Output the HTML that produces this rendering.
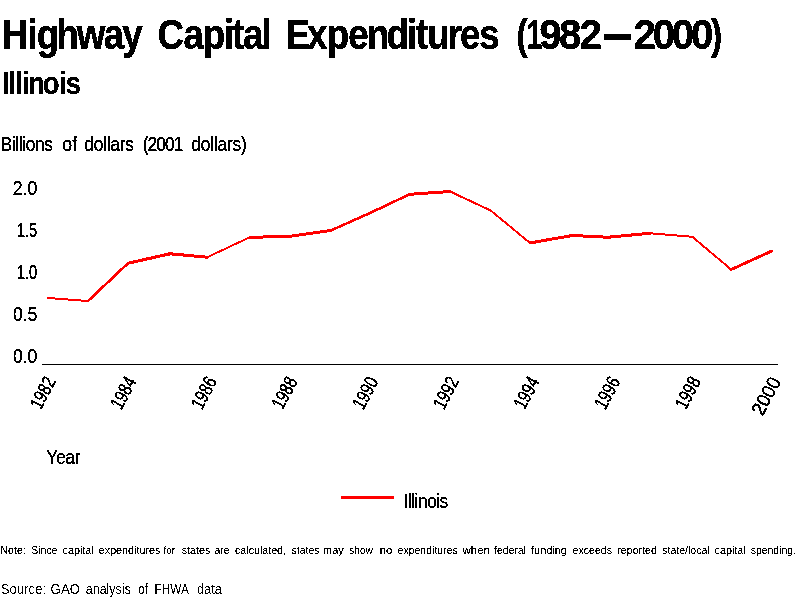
<!DOCTYPE html>
<html lang="en"><head><meta charset="utf-8"><title>Highway Capital Expenditures (1982—2000) Illinois</title>
<style>
html,body{margin:0;padding:0;background:#fff;}
body{width:800px;height:600px;overflow:hidden;}
svg{display:block;}
text{font-family:"Liberation Sans",sans-serif;fill:#000;}
.b{font-weight:bold;}
</style></head><body>
<svg width="800" height="600" viewBox="0 0 800 600">
<defs>
<filter id="fT" x="0" y="0" width="800" height="600" filterUnits="userSpaceOnUse"><feOffset in="SourceGraphic" dx="0.2" dy="0" result="o"/><feMerge result="m"><feMergeNode in="SourceGraphic"/><feMergeNode in="o"/></feMerge><feComponentTransfer in="m"><feFuncA type="discrete" tableValues="0 0 1 1 1"/></feComponentTransfer></filter>
<filter id="fS" x="0" y="0" width="800" height="600" filterUnits="userSpaceOnUse"><feOffset in="SourceGraphic" dx="0.25" dy="0" result="o"/><feMerge result="m"><feMergeNode in="SourceGraphic"/><feMergeNode in="o"/></feMerge><feComponentTransfer in="m"><feFuncA type="discrete" tableValues="0 1"/></feComponentTransfer></filter>
<filter id="fR" x="0" y="0" width="800" height="600" filterUnits="userSpaceOnUse"><feOffset in="SourceGraphic" dx="0.35" dy="0" result="o"/><feMerge result="m"><feMergeNode in="SourceGraphic"/><feMergeNode in="o"/></feMerge><feComponentTransfer in="m"><feFuncA type="discrete" tableValues="0 1"/></feComponentTransfer></filter>
<filter id="fN" x="0" y="0" width="800" height="600" filterUnits="userSpaceOnUse"><feComponentTransfer><feFuncA type="discrete" tableValues="0 0 0 0 1 1 1 1 1"/></feComponentTransfer></filter>
<filter id="fO" x="0" y="0" width="800" height="600" filterUnits="userSpaceOnUse"><feComponentTransfer><feFuncA type="discrete" tableValues="0 1"/></feComponentTransfer></filter>
<filter id="fL" x="0" y="0" width="800" height="600" filterUnits="userSpaceOnUse"><feComponentTransfer><feFuncA type="discrete" tableValues="0 1"/></feComponentTransfer></filter>
<filter id="fX" x="0" y="0" width="800" height="600" filterUnits="userSpaceOnUse"><feComponentTransfer><feFuncA type="discrete" tableValues="0 1"/></feComponentTransfer></filter>
</defs>
<rect width="800" height="600" fill="#fff"/>
<g filter="url(#fT)">
<text class="b" font-size="42" x="1.84 31.47 42.00 64.52 87.60 118.46 139.70" transform="translate(0,49) scale(0.875,1)">Highway</text>
<text class="b" font-size="42" x="179.89 209.72 231.65 255.76 265.18 277.60 298.53" transform="translate(0,49) scale(0.875,1)">Capital</text>
<text class="b" font-size="42" x="326.55 350.85 373.51 397.99 419.23 441.61 465.10 475.18 488.00 511.48 525.70 547.70" transform="translate(0,49) scale(0.875,1)">Expenditures</text>
<text class="b" font-size="42" x="645.53" transform="translate(0,49) scale(0.8,1)">(</text>
<text class="b" font-size="42" x="798.26" transform="translate(0,49) scale(0.66,1)">1</text>
<text class="b" font-size="42" x="561.67 582.21 603.54" transform="translate(0,49) scale(0.96,1)">982</text>
<text class="b" font-size="42" transform="translate(604.10,53) scale(0.6381,1.42)">—</text>
<text class="b" font-size="42" x="660.00 680.01 699.80 719.80" transform="translate(0,49) scale(0.96,1)">2000</text>
<text class="b" font-size="42" x="888.71" transform="translate(0,49) scale(0.8,1)">)</text>
</g>
<g filter="url(#fS)">
<text class="b" font-size="31.5" x="2.40 9.58 17.44 25.27 32.09 48.95 67.41 75.28" transform="translate(0,94) scale(0.875,1)">Illinois</text>
</g>
<g filter="url(#fR)">
<text class="t" font-size="19.8" letter-spacing="-0.429" transform="translate(0.46,151) scale(0.8800,1)">Billions</text>
<text class="t" font-size="19.8" letter-spacing="0.000" transform="translate(62.35,151) scale(0.8954,1)">of</text>
<text class="t" font-size="19.8" letter-spacing="-0.296" transform="translate(84.26,151) scale(0.8800,1)">dollars</text>
<text class="t" font-size="19.8" letter-spacing="-1.036" transform="translate(142.66,151) scale(0.8800,1)">(2001</text>
<text class="t" font-size="19.8" letter-spacing="-0.214" transform="translate(191.16,151) scale(0.8800,1)">dollars)</text>
<text class="t" font-size="19.8" transform="translate(12.72,195) scale(0.8938,1)">2.0</text>
<text class="t" font-size="19.8" transform="translate(16.90,237) scale(0.7388,1)">1.5</text>
<text class="t" font-size="19.8" transform="translate(16.91,279) scale(0.7373,1)">1.0</text>
<text class="t" font-size="19.8" transform="translate(12.90,321) scale(0.8887,1)">0.5</text>
<text class="t" font-size="19.8" transform="translate(12.90,363) scale(0.8870,1)">0.0</text>
<text class="t" font-size="19.8" letter-spacing="-0.338" transform="translate(46.21,464) scale(0.8800,1)">Year</text>
<text class="t" font-size="19.8" letter-spacing="-0.595" transform="translate(403.59,508) scale(0.8800,1)">Illinois</text>
</g>
<g filter="url(#fN)">
<text class="t" font-size="11.6" transform="translate(0.37,554) scale(0.9233,1)">Note:</text>
<text class="t" font-size="11.6" transform="translate(31.28,554) scale(0.9023,1)">Since</text>
<text class="t" font-size="11.6" transform="translate(62.54,554) scale(0.9303,1)">capital</text>
<text class="t" font-size="11.6" transform="translate(98.79,554) scale(0.9269,1)">expenditures</text>
<text class="t" font-size="11.6" transform="translate(163.60,554) scale(0.8526,1)">for</text>
<text class="t" font-size="11.6" transform="translate(181.70,554) scale(0.9266,1)">states</text>
<text class="t" font-size="11.6" transform="translate(214.55,554) scale(0.9033,1)">are</text>
<text class="t" font-size="11.6" transform="translate(235.05,554) scale(0.9182,1)">calculated,</text>
<text class="t" font-size="11.6" transform="translate(291.46,554) scale(0.9101,1)">states</text>
<text class="t" font-size="11.6" transform="translate(323.01,554) scale(0.9473,1)">may</text>
<text class="t" font-size="11.6" transform="translate(349.22,554) scale(0.8770,1)">show</text>
<text class="t" font-size="11.6" transform="translate(379.73,554) scale(0.9889,1)">no</text>
<text class="t" font-size="11.6" transform="translate(397.55,554) scale(0.9078,1)">expenditures</text>
<text class="t" font-size="11.6" transform="translate(462.53,554) scale(0.9897,1)">when</text>
<text class="t" font-size="11.6" transform="translate(494.09,554) scale(0.9055,1)">federal</text>
<text class="t" font-size="11.6" transform="translate(531.09,554) scale(0.9422,1)">funding</text>
<text class="t" font-size="11.6" transform="translate(572.55,554) scale(0.9158,1)">exceeds</text>
<text class="t" font-size="11.6" transform="translate(617.31,554) scale(0.9172,1)">reported</text>
<text class="t" font-size="11.6" transform="translate(662.31,554) scale(0.9075,1)">state/local</text>
<text class="t" font-size="11.6" transform="translate(714.54,554) scale(0.9303,1)">capital</text>
<text class="t" font-size="11.6" transform="translate(750.71,554) scale(0.8988,1)">spending.</text>
</g>
<g filter="url(#fO)">
<text class="t" font-size="15.1" transform="translate(0.66,594) scale(0.8753,1)">Source:</text>
<text class="t" font-size="15.1" transform="translate(50.59,594) scale(0.8804,1)">GAO</text>
<text class="t" font-size="15.1" transform="translate(85.72,594) scale(0.8290,1)">analysis</text>
<text class="t" font-size="15.1" transform="translate(138.25,594) scale(0.7730,1)">of</text>
<text class="t" font-size="15.1" transform="translate(154.53,594) scale(0.7802,1)">FHWA</text>
<text class="t" font-size="15.1" transform="translate(196.95,594) scale(0.8517,1)">data</text>
</g>
<g filter="url(#fX)">
<text class="t" font-size="19.4" stroke="#000" stroke-width="0.4" text-anchor="end" transform="translate(56.2,381.3) rotate(-62) scale(0.765,1)">1982</text>
<text class="t" font-size="19.4" stroke="#000" stroke-width="0.4" text-anchor="end" transform="translate(136.8,381.3) rotate(-62) scale(0.765,1)">1984</text>
<text class="t" font-size="19.4" stroke="#000" stroke-width="0.4" text-anchor="end" transform="translate(217.5,381.3) rotate(-62) scale(0.765,1)">1986</text>
<text class="t" font-size="19.4" stroke="#000" stroke-width="0.4" text-anchor="end" transform="translate(298.1,381.3) rotate(-62) scale(0.765,1)">1988</text>
<text class="t" font-size="19.4" stroke="#000" stroke-width="0.4" text-anchor="end" transform="translate(378.8,381.3) rotate(-62) scale(0.765,1)">1990</text>
<text class="t" font-size="19.4" stroke="#000" stroke-width="0.4" text-anchor="end" transform="translate(459.4,381.3) rotate(-62) scale(0.765,1)">1992</text>
<text class="t" font-size="19.4" stroke="#000" stroke-width="0.4" text-anchor="end" transform="translate(540.0,381.3) rotate(-62) scale(0.765,1)">1994</text>
<text class="t" font-size="19.4" stroke="#000" stroke-width="0.4" text-anchor="end" transform="translate(620.7,381.3) rotate(-62) scale(0.765,1)">1996</text>
<text class="t" font-size="19.4" stroke="#000" stroke-width="0.4" text-anchor="end" transform="translate(701.3,381.3) rotate(-62) scale(0.765,1)">1998</text>
<text class="t" font-size="19.4" stroke="#000" stroke-width="0.4" text-anchor="end" transform="translate(781.4,381.3) rotate(-62) scale(0.93,1)">2000</text>
</g>
<g shape-rendering="crispEdges">
<line x1="42" y1="364.5" x2="778" y2="364.5" stroke="#000" stroke-width="1"/>
</g>
<g stroke="#f00" stroke-linecap="round" filter="url(#fL)">
<line x1="48" y1="298" x2="88" y2="301" stroke-width="2"/>
<line x1="88" y1="301" x2="128" y2="263.3" stroke-width="2.6"/>
<line x1="128" y1="263.3" x2="170" y2="253.7" stroke-width="3"/>
<line x1="170" y1="253.7" x2="207.5" y2="257.2" stroke-width="3"/>
<line x1="207.5" y1="257.2" x2="250" y2="237.2" stroke-width="2"/>
<line x1="250" y1="237.2" x2="288.5" y2="236.4" stroke-width="3"/>
<line x1="288.5" y1="236.4" x2="330.5" y2="230.6" stroke-width="3"/>
<line x1="330.5" y1="230.6" x2="370" y2="213" stroke-width="2.5"/>
<line x1="370" y1="213" x2="410" y2="194.2" stroke-width="2.5"/>
<line x1="410" y1="194.2" x2="450" y2="191.5" stroke-width="3"/>
<line x1="450" y1="191.5" x2="491" y2="210.7" stroke-width="2"/>
<line x1="491" y1="210.7" x2="530" y2="242.9" stroke-width="2"/>
<line x1="530" y1="242.9" x2="572.5" y2="235.5" stroke-width="3"/>
<line x1="572.5" y1="235.5" x2="608" y2="237.2" stroke-width="3"/>
<line x1="608" y1="237.2" x2="650" y2="233.3" stroke-width="3"/>
<line x1="650" y1="233.3" x2="692.2" y2="236.8" stroke-width="2"/>
<line x1="692.2" y1="236.8" x2="731.2" y2="269.5" stroke-width="2"/>
<line x1="731.2" y1="269.5" x2="771.5" y2="251.1" stroke-width="3"/>
</g>
<g shape-rendering="crispEdges">
<line x1="341" y1="497.5" x2="394" y2="497.5" stroke="#f00" stroke-width="3"/>
</g>
</svg>
</body></html>
